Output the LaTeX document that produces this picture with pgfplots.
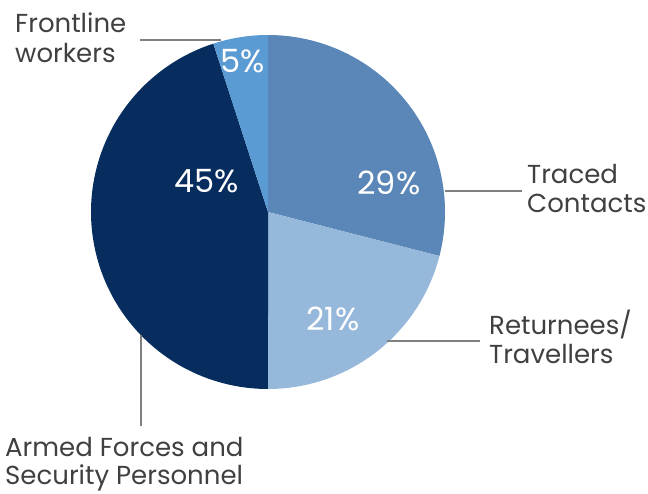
\documentclass[border=0pt]{standalone}
\usepackage{fontspec}
\setmainfont{Poppins}
\usepackage{pgfplots}
\pgfplotsset{compat=1.18}
\definecolor{cTraced}{HTML}{5B86B8}
\definecolor{cRet}{HTML}{95B8DB}
\definecolor{cArmed}{HTML}{072C5E}
\definecolor{cFront}{HTML}{5B9BD3}
\definecolor{txt}{HTML}{404040}
\definecolor{lin}{HTML}{808080}
\begin{document}
\begin{tikzpicture}
% shares in percent
\def\pA{29}\def\pB{21}\def\pC{45}\def\pD{5}
\pgfmathsetmacro{\aA}{90}
\pgfmathsetmacro{\aB}{\aA-3.6*\pA}
\pgfmathsetmacro{\aC}{\aB-3.6*\pB}
\pgfmathsetmacro{\aD}{\aC-3.6*\pC}
\pgfmathsetmacro{\aE}{\aD-3.6*\pD}
\begin{axis}[hide axis, x=1pt, y=1pt, xmin=0, xmax=648, ymin=0, ymax=493,
  enlargelimits=false, clip=false, scale only axis]
\addplot[fill=cTraced, draw=none, domain=\aB:\aA, samples=90] ({268+177*cos(x)},{281+177*sin(x)}) -- (axis cs:268,281) -- cycle;
\addplot[fill=cRet, draw=none, domain=\aC:\aB, samples=90] ({268+177*cos(x)},{281+177*sin(x)}) -- (axis cs:268,281) -- cycle;
\addplot[fill=cArmed, draw=none, domain=\aD:\aC, samples=120] ({268+177*cos(x)},{281+177*sin(x)}) -- (axis cs:268,281) -- cycle;
\addplot[fill=cFront, draw=none, domain=\aE:\aD, samples=30] ({268+177*cos(x)},{281+177*sin(x)}) -- (axis cs:268,281) -- cycle;
% percent labels
\tikzset{pct/.style={text=white, font=\fontsize{32}{36}\selectfont}}
\node[pct] at (axis cs:389,310) {29\%};
\node[pct] at (axis cs:333,174) {21\%};
\node[pct] at (axis cs:207,312) {45\%};
\node[pct] at (axis cs:243,432) {5\%};
% leader lines
\draw[lin, line width=1.5pt] (axis cs:140,453) -- (axis cs:221,453);
\draw[lin, line width=1.5pt] (axis cs:445,302) -- (axis cs:522,302);
\draw[lin, line width=1.5pt] (axis cs:387,152) -- (axis cs:480,152);
\draw[lin, line width=1.5pt] (axis cs:141,158) -- (axis cs:141,67);
% category labels
\tikzset{lab/.style={text=txt, inner sep=0pt, anchor=base west, font=\fontsize{26}{30}\selectfont}}
\node[lab] at (axis cs:15,460) {Frontline};
\node[lab] at (axis cs:15,430) {workers};
\node[lab] at (axis cs:527,309) {Traced};
\node[lab] at (axis cs:527,280) {Contacts};
\node[lab] at (axis cs:489,159) {Returnees/};
\node[lab] at (axis cs:489,130) {Travellers};
\node[lab] at (axis cs:5,37) {Armed Forces and};
\node[lab] at (axis cs:5,9) {Security Personnel};
\end{axis}
\pgfresetboundingbox
\useasboundingbox (0,0) rectangle (648pt,493pt);
\end{tikzpicture}
\end{document}
